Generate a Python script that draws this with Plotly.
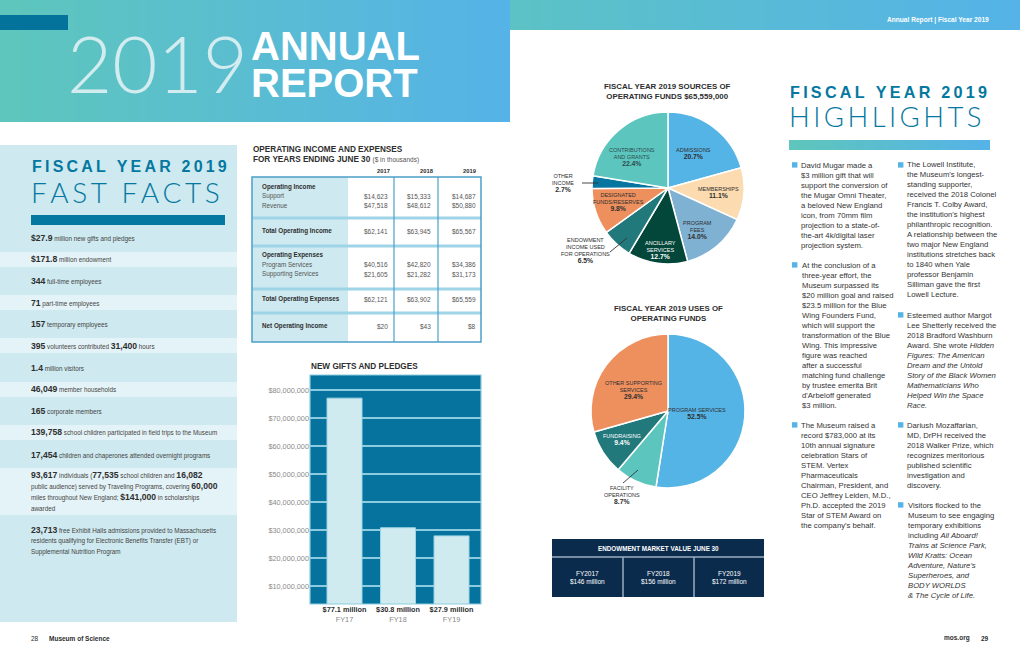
import re
import plotly.graph_objects as go

# ---------------- DATA ----------------
FACT_LINES = [
    ["{$27.9} million new gifts and pledges"],
    ["{$171.8} million endowment"],
    ["{344} full-time employees"],
    ["{71} part-time employees"],
    ["{157} temporary employees"],
    ["{395} volunteers contributed {31,400} hours"],
    ["{1.4} million visitors"],
    ["{46,049} member households"],
    ["{165} corporate members"],
    ["{139,758} school children participated in field trips to the Museum"],
    ["{17,454} children and chaperones attended overnight programs"],
    ["{93,617} individuals ({77,535} school children and {16,082}",
     "public audience) served by Traveling Programs, covering {60,000}",
     "miles throughout New England; {$141,000} in scholarships",
     "awarded"],
    ["{23,713} free Exhibit Halls admissions provided to Massachusetts",
     "residents qualifying for Electronic Benefits Transfer (EBT) or",
     "Supplemental Nutrition Program"],
]

TABLE_YEARS = ["2017", "2018", "2019"]
SUPPORT = [14623, 15333, 14687]
REVENUE = [47518, 48612, 50880]
TOTAL_INCOME = [62141, 63945, 65567]
PROGRAM_SERVICES = [40516, 42820, 34386]
SUPPORTING_SERVICES = [21605, 21282, 31173]
TOTAL_EXPENSES = [62121, 63902, 65559]
NET_INCOME = [20, 43, 8]

GIFT_YEARS = ["FY17", "FY18", "FY19"]
GIFTS = [77.1e6, 30.8e6, 27.9e6]
GIFT_LABELS = ["$77.1 million", "$30.8 million", "$27.9 million"]
GIFT_TICKS = [10e6, 20e6, 30e6, 40e6, 50e6, 60e6, 70e6, 80e6]

SRC_NAMES = ["ADMISSIONS", "MEMBERSHIPS", "PROGRAM<br>FEES", "ANCILLARY<br>SERVICES",
             "ENDOWMENT<br>INCOME USED<br>FOR OPERATIONS", "DESIGNATED<br>FUNDS/RESERVES",
             "OTHER<br>INCOME", "CONTRIBUTIONS<br>AND GRANTS"]
SRC_VALUES = [20.7, 11.1, 14.0, 12.7, 6.5, 9.8, 2.7, 22.4]

USE_NAMES = ["PROGRAM SERVICES", "FACILITY<br>OPERATIONS", "FUNDRAISING",
             "OTHER SUPPORTING<br>SERVICES"]
USE_VALUES = [52.5, 8.7, 9.4, 29.4]

ENDOW_YEARS = ["FY2017", "FY2018", "FY2019"]
ENDOW_VALUES = [146, 156, 172]

HIGHLIGHTS_COL1 = [
    ["David Mugar made a", "$3 million gift that will", "support the conversion of",
     "the Mugar Omni Theater,", "a beloved New England", "icon, from 70mm film",
     "projection to a state-of-", "the-art 4k/digital laser", "projection system."],
    ["At the conclusion of a", "three-year effort, the", "Museum surpassed its",
     "$20 million goal and raised", "$23.5 million for the Blue", "Wing Founders Fund,",
     "which will support the", "transformation of the Blue", "Wing. This impressive",
     "figure was reached", "after a successful", "matching fund challenge",
     "by trustee emerita Brit", "d'Arbeloff generated", "$3 million."],
    ["The Museum raised a", "record $783,000 at its", "10th annual signature",
     "celebration Stars of", "STEM. Vertex", "Pharmaceuticals",
     "Chairman, President, and", "CEO Jeffrey Leiden, M.D.,", "Ph.D. accepted the 2019",
     "Star of STEM Award on", "the company's behalf."],
]
HIGHLIGHTS_COL2 = [
    ["The Lowell Institute,", "the Museum's longest-", "standing supporter,",
     "received the 2018 Colonel", "Francis T. Colby Award,", "the institution's highest",
     "philanthropic recognition.", "A relationship between the", "two major New England",
     "institutions stretches back", "to 1840 when Yale", "professor Benjamin",
     "Silliman gave the first", "Lowell Lecture."],
    ["Esteemed author Margot", "Lee Shetterly received the", "2018 Bradford Washburn",
     "Award. She wrote <i>Hidden</i>", "<i>Figures: The American</i>",
     "<i>Dream and the Untold</i>", "<i>Story of the Black Women</i>",
     "<i>Mathematicians Who</i>", "<i>Helped Win the Space</i>", "<i>Race.</i>"],
    ["Dariush Mozaffarian,", "MD, DrPH received the", "2018 Walker Prize, which",
     "recognizes meritorious", "published scientific", "investigation and", "discovery."],
    ["Visitors flocked to the", "Museum to see engaging", "temporary exhibitions",
     "including <i>All Aboard!</i>", "<i>Trains at Science Park,</i>",
     "<i>Wild Kratts: Ocean</i>", "<i>Adventure, Nature's</i>",
     "<i>Superheroes, and</i>", "<i>BODY WORLDS</i>", "<i>& The Cycle of Life.</i>"],
]

# ---------------- STYLE ----------------
W, H = 1020, 652
FONT = "Liberation Sans, Arial, Helvetica, sans-serif"
THIN = "Lato, Roboto, sans-serif"
TEAL = "#5CC6BE"
BLUE = "#55B4E6"
DARKBLUE = "#0478A0"
PANEL = "#CEE9EF"
PANEL_LIGHT = "#E4F3F7"
NAVY = "#0B2B4D"
TXT = "#2E2E2E"
GRAY = "#555555"

SRC_COLORS = [BLUE, "#FCDBB0", "#7EB1D2", "#03473A", "#21797B", "#EE905E", "#0676A0", TEAL]
SRC_TXT_COLORS = [TXT, TXT, TXT, "white", TXT, TXT, TXT, "#2E4A50"]
SRC_POS = [(693, 154), (718, 193), (697, 229.5), (660, 249.5), (585, 250),
           (618, 202), (563, 183), (632, 157)]
USE_COLORS = [BLUE, TEAL, "#21797B", "#EE905E"]
USE_TXT_COLORS = [TXT, TXT, "white", TXT]
USE_POS = [(697, 413), (622, 495), (622, 439), (633, 390)]

fig = go.Figure()
shapes, annos = [], []


def X(px):
    return px / W


def Y(py):
    return 1 - py / H


def txt(x, y, s, size=7.5, color=TXT, xa="left", ya="middle", family=FONT,
        weight="normal", align="left"):
    annos.append(dict(xref="paper", yref="paper", x=X(x), y=Y(y), text=s,
                      showarrow=False, xanchor=xa, yanchor=ya, align=align,
                      borderpad=0,
                      font=dict(size=size, color=color, family=family, weight=weight)))


def rect(x0, y0, x1, y1, fill, lc=None, lw=0, layer="below"):
    shapes.append(dict(type="rect", xref="paper", yref="paper", x0=X(x0), x1=X(x1),
                       y0=Y(y1), y1=Y(y0), fillcolor=fill,
                       line=dict(color=lc or fill, width=lw), layer=layer))


def seg(x0, y0, x1, y1, color, w=1.0, layer="above"):
    shapes.append(dict(type="line", xref="paper", yref="paper", x0=X(x0), x1=X(x1),
                       y0=Y(y0), y1=Y(y1), line=dict(color=color, width=w), layer=layer))


def hex2rgb(h):
    h = h.lstrip("#")
    return tuple(int(h[i:i + 2], 16) for i in (0, 2, 4))


def gradient(x0, y0, x1, y1, c0, c1, n=48):
    a, b = hex2rgb(c0), hex2rgb(c1)
    for i in range(n):
        t = i / (n - 1)
        col = "rgb(%d,%d,%d)" % tuple(round(a[k] + (b[k] - a[k]) * t) for k in range(3))
        xa = x0 + (x1 - x0) * i / n
        xb = min(x1, x0 + (x1 - x0) * (i + 1) / n + 0.8)
        rect(xa, y0, xb, y1, col)


def spaced(s):
    return "\u2009".join(list(s))


def bold_nums(line, big=8.6, small=6.3):
    parts = re.split(r"(\{[^}]*\})", line)
    out = []
    for p in parts:
        if p.startswith("{"):
            out.append("<span style='font-size:%spx;color:%s'><b>%s</b></span>" % (big, TXT, p[1:-1]))
        elif p:
            out.append("<span style='font-size:%spx;color:%s'>%s</span>" % (small, "#444", p))
    return "".join(out)


# ---------------- HEADER ----------------
gradient(0, 0, 510, 122, "#5EC6BC", "#55B3E7")
gradient(510, 0, 1020, 30, "#5CC2C6", "#55B3E7")
rect(0, 15, 68, 30, "#03739C")
txt(157, 63, "2019", size=78, color="#D2ECEF", xa="center", family=THIN, weight=300)
txt(250, 46, "ANNUAL", size=40, color="white", weight="bold")
txt(250, 83, "REPORT", size=40, color="white", weight="bold")
txt(990, 20, "Annual Report | Fiscal Year 2019", size=6.6, color="white",
    xa="right", weight="bold")

# ---------------- FAST FACTS PANEL ----------------
rect(0, 145, 237, 622, PANEL)
for (a, b) in [(252, 267), (295, 310), (338, 353), (382, 397), (425, 440), (468, 515)]:
    rect(0, a, 237, b, PANEL_LIGHT)
txt(31, 167, spaced("FISCAL YEAR 2019"), size=16, color=DARKBLUE, weight="bold")
txt(30, 192, spaced("FAST FACTS"), size=28, color=DARKBLUE, family=THIN, weight=300)
rect(31, 215, 225, 225, DARKBLUE)

FACT_Y = [[238], [259], [281], [303], [324], [346], [368], [389], [411], [432], [455],
          [475, 486, 497, 508], [530, 541, 552]]
for lines, ys in zip(FACT_LINES, FACT_Y):
    for ln, yy in zip(lines, ys):
        txt(30, yy, bold_nums(ln))

txt(30, 638, "28", size=6.5, color=TXT)
txt(48, 638, "<b>Museum of Science</b>", size=6.5, color=TXT)

# ---------------- OPERATING TABLE ----------------
txt(252, 149, "<b>OPERATING INCOME AND EXPENSES</b>", size=8.2, color=TXT)
txt(252, 159, "<b>FOR YEARS ENDING JUNE 30</b> <span style='font-size:6.5px;color:#555'>($ in thousands)</span>",
    size=8.2, color=TXT)
COLX = [389, 432, 477]
HEADX = [383, 427, 470]
for yr, hx in zip(TABLE_YEARS, HEADX):
    txt(hx, 171, "<b>%s</b>" % yr, size=5.8, color=TXT, xa="center")

rect(252, 177, 348, 342, PANEL)
rect(348, 177, 481, 342, "white")
for yy in [218, 246, 289, 313]:
    seg(252, yy, 481, yy, "#9ED4E8", 3)
seg(394, 177, 394, 342, "#4C9FC9", 1.2)
seg(438, 177, 438, 342, "#4C9FC9", 1.2)
rect(252, 177, 481, 342, "rgba(0,0,0,0)", "#4C9FC9", 1.5, layer="above")

LX = 261


def fmt(v):
    return "${:,}".format(v)


txt(LX, 187, "<b>Operating Income</b>", size=6.3, color=TXT)
txt(LX, 196, "Support", size=6.3, color=GRAY)
txt(LX, 205, "Revenue", size=6.3, color=GRAY)
txt(LX, 231, "<b>Total Operating Income</b>", size=6.3, color=TXT)
txt(LX, 255, "<b>Operating Expenses</b>", size=6.3, color=TXT)
txt(LX, 264.5, "Program Services", size=6.3, color=GRAY)
txt(LX, 274, "Supporting Services", size=6.3, color=GRAY)
txt(LX, 299, "<b>Total Operating Expenses</b>", size=6.3, color=TXT)
txt(LX, 326, "<b>Net Operating Income</b>", size=6.3, color=TXT)
for i, cx in enumerate(COLX):
    for arr, yy in [(SUPPORT, 196), (REVENUE, 205), (TOTAL_INCOME, 231),
                    (PROGRAM_SERVICES, 264.5), (SUPPORTING_SERVICES, 274),
                    (TOTAL_EXPENSES, 299), (NET_INCOME, 326)]:
        txt(cx, yy, fmt(arr[i]), size=6.5, color=GRAY, xa="right")

# ---------------- NEW GIFTS BAR CHART ----------------
txt(310, 366, "<b>NEW GIFTS AND PLEDGES</b>", size=8.2, color=TXT)
fig.add_trace(go.Bar(x=GIFT_YEARS, y=GIFTS, width=0.654,
                     marker=dict(color="#CFEBF0", line=dict(color="#9CD4E6", width=1)),
                     hoverinfo="skip", showlegend=False))
rect(310, 375, 481, 604, "rgba(0,0,0,0)", "#8DCBE0", 1.2, layer="above")

# ---------------- SOURCES PIE ----------------
txt(667, 92, "<b>FISCAL YEAR 2019 SOURCES OF<br>OPERATING FUNDS $65,559,000</b>",
    size=7.9, color=TXT, xa="center", align="center")
fig.add_trace(go.Pie(values=SRC_VALUES, labels=SRC_NAMES, sort=False, direction="clockwise",
                     rotation=0, textinfo="none", hoverinfo="skip", showlegend=False,
                     marker=dict(colors=SRC_COLORS, line=dict(color="white", width=1.5)),
                     domain=dict(x=[X(668 - 76), X(668 + 76)], y=[Y(188 + 76), Y(188 - 76)])))
for name, v, (px, py), c in zip(SRC_NAMES, SRC_VALUES, SRC_POS, SRC_TXT_COLORS):
    txt(px, py, "%s<br><span style='font-size:6.8px'><b>%.1f%%</b></span>" % (name, v),
        size=5.5, color=c, xa="center", align="center")
seg(582, 183, 598, 183, "#333333", 0.9)
seg(610, 252, 627, 238, "#333333", 0.9)

# ---------------- USES PIE ----------------
txt(668, 313, "<b>FISCAL YEAR 2019 USES OF<br>OPERATING FUNDS</b>",
    size=7.9, color=TXT, xa="center", align="center")
fig.add_trace(go.Pie(values=USE_VALUES, labels=USE_NAMES, sort=False, direction="clockwise",
                     rotation=0, textinfo="none", hoverinfo="skip", showlegend=False,
                     marker=dict(colors=USE_COLORS, line=dict(color="white", width=1.5)),
                     domain=dict(x=[X(668 - 77), X(668 + 77)], y=[Y(411 + 77), Y(411 - 77)])))
for name, v, (px, py), c in zip(USE_NAMES, USE_VALUES, USE_POS, USE_TXT_COLORS):
    txt(px, py, "%s<br><span style='font-size:6.8px'><b>%.1f%%</b></span>" % (name, v),
        size=5.5, color=c, xa="center", align="center")
seg(623, 483, 638, 470, "#333333", 0.9)

# ---------------- ENDOWMENT TABLE ----------------
rect(552, 539, 764, 597, NAVY)
seg(552, 557, 764, 557, "#9AAEC0", 1.5)
seg(623, 557, 623, 597, "#9AAEC0", 1.5)
seg(694, 557, 694, 597, "#9AAEC0", 1.5)
txt(658, 548, "<b>ENDOWMENT MARKET VALUE JUNE 30</b>", size=6.3, color="white", xa="center")
for yr, v, cx in zip(ENDOW_YEARS, ENDOW_VALUES, [587.5, 658.5, 729]):
    txt(cx, 577, "%s<br>$%d million" % (yr, v), size=6.5, color="white", xa="center",
        align="center")

# ---------------- HIGHLIGHTS ----------------
txt(789, 92, spaced("FISCAL YEAR 2019"), size=16.2, color=DARKBLUE, weight="bold")
txt(788, 116.5, spaced("HIGHLIGHTS"), size=27.5, color=DARKBLUE, family=THIN, weight=300)
gradient(789, 140, 990, 150, "#5EC6BC", "#55B3E7", n=30)

COL1_Y = [165, 265, 425]
COL2_Y = [165, 315, 425, 505]
for paras, ys, bx in [(HIGHLIGHTS_COL1, COL1_Y, 792), (HIGHLIGHTS_COL2, COL2_Y, 898)]:
    for lines, y0 in zip(paras, ys):
        rect(bx, y0 - 2.8, bx + 5.4, y0 + 2.6, BLUE)
        yc = y0 + (len(lines) - 1) * 5.0
        txt(bx + 8, yc, "<br>".join(lines), size=7.7, color="#333333")

txt(971, 638, "<b>mos.org</b>", size=6.5, color=TXT, xa="right")
txt(990, 638, "<b>29</b>", size=6.5, color=TXT, xa="right")

# ---------------- LAYOUT ----------------
tick_text = ["<b>%s</b><br><span style='color:#8a8a8a'>%s</span>" % (l, y)
             for l, y in zip(GIFT_LABELS, GIFT_YEARS)]
fig.update_layout(
    width=W, height=H, margin=dict(l=0, r=0, t=0, b=0),
    paper_bgcolor="white", plot_bgcolor="#05739D",
    font=dict(family=FONT, color=TXT),
    showlegend=False, hovermode=False,
    xaxis=dict(domain=[X(310), X(481)], type="category", range=[-0.645, 2.551],
               tickvals=GIFT_YEARS, ticktext=tick_text, showgrid=False, zeroline=False,
               ticks="", tickfont=dict(size=7.3, color=TXT, family=FONT), fixedrange=True),
    yaxis=dict(domain=[Y(604), Y(375)], range=[3.57e6, 85.36e6], tickvals=GIFT_TICKS,
               tickformat="$,.0f", showgrid=True, gridcolor="#8DCBE0", gridwidth=2,
               zeroline=False, ticks="", tickfont=dict(size=7.3, color="#8a8a8a", family=FONT),
               fixedrange=True),
    shapes=shapes, annotations=annos,
)
fig.write_html("out.html", config={"displayModeBar": False, "staticPlot": True},
               post_script="document.body.style.margin='0px';document.body.style.overflow='hidden';")
